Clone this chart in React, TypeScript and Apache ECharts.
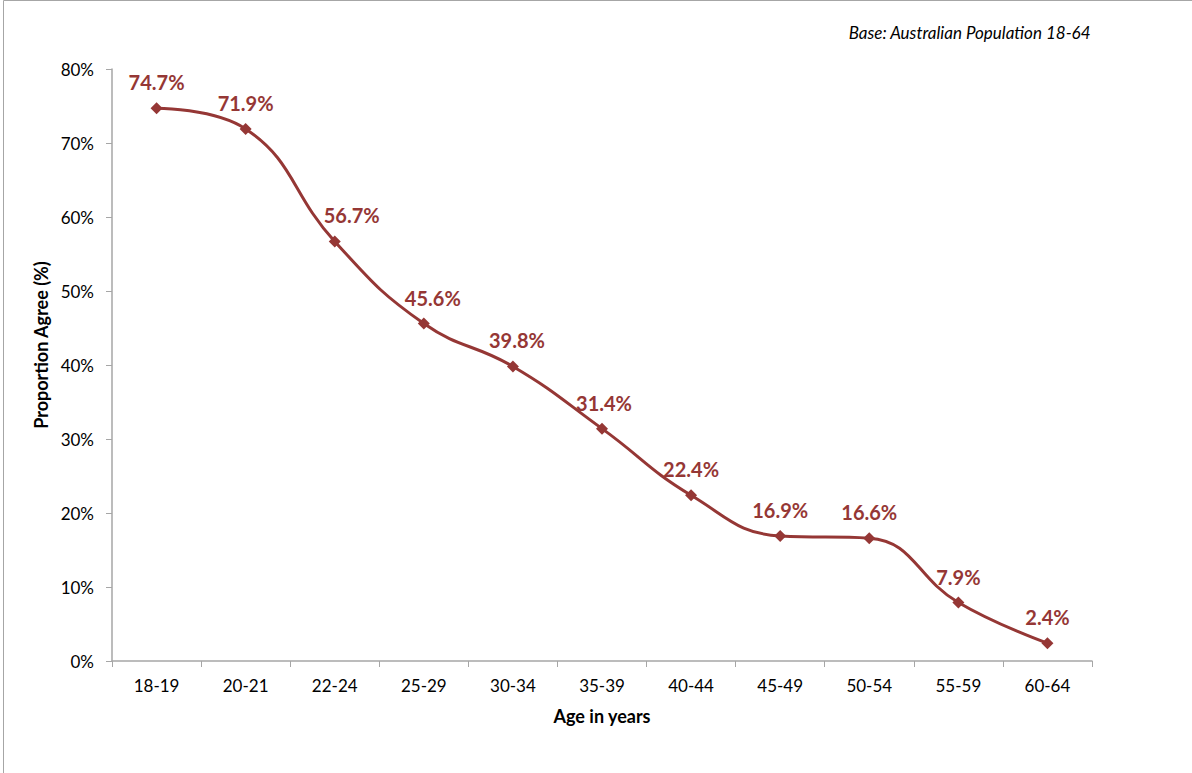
import React, { useEffect, useRef } from "react";
import * as echarts from "echarts";

const categories = ["18-19", "20-21", "22-24", "25-29", "30-34", "35-39", "40-44", "45-49", "50-54", "55-59", "60-64"];
const values = [74.7, 71.9, 56.7, 45.6, 39.8, 31.4, 22.4, 16.9, 16.6, 7.9, 2.4];
const yTicks = { min: 0, max: 80, interval: 10 };
// horizontal nudges of some data labels (styling only)
const labelShiftX = [0, 0, 17, 9, 4, 2, 0, 0, 0, 0, 0];

const FONT = "Lato, 'Noto Sans', sans-serif";
const RED = "#953735";

export default function App() {
  const ref = useRef<HTMLDivElement>(null);
  useEffect(() => {
    const chart = echarts.init(ref.current!, null, { renderer: "svg" });
    chart.setOption({
      animation: false,
      textStyle: { fontFamily: FONT },
      graphic: [
        {
          type: "polyline",
          shape: { points: [[3.5, 773], [3.5, 0.5], [1192, 0.5]] },
          style: { stroke: "#a6a6a6", lineWidth: 1, fill: "none" },
        },
        {
          type: "text",
          right: 101,
          top: 24,
          style: {
            text: "Base: Australian Population 18-64",
            font: "italic 17px " + FONT,
            fill: "#000",
          },
        },
      ],
      grid: { left: 112, right: 100, top: 69, bottom: 112, containLabel: false },
      xAxis: {
        type: "category",
        data: categories,
        boundaryGap: true,
        name: "Age in years",
        nameLocation: "middle",
        nameGap: 46,
        nameTextStyle: { fontFamily: FONT, fontWeight: "bold", fontSize: 18, color: "#000" },
        axisLine: { lineStyle: { color: "#a6a6a6", width: 1.5 } },
        axisTick: { show: true, length: 6, alignWithLabel: false, lineStyle: { color: "#a6a6a6" } },
        axisLabel: { fontFamily: FONT, fontSize: 17, color: "#000", margin: 16 },
      },
      yAxis: {
        type: "value",
        min: yTicks.min,
        max: yTicks.max,
        interval: yTicks.interval,
        name: "Proportion Agree (%)",
        nameLocation: "middle",
        nameGap: 60,
        nameRotate: 90,
        nameTextStyle: { fontFamily: FONT, fontWeight: "bold", fontSize: 18, color: "#000", padding: [0, 0, 0, 40] },
        axisLine: { show: true, lineStyle: { color: "#a6a6a6", width: 1.5 } },
        axisTick: { show: true, length: 6, lineStyle: { color: "#a6a6a6" } },
        splitLine: { show: false },
        axisLabel: { fontFamily: FONT, fontSize: 17, color: "#000", margin: 18, formatter: "{value}%" },
      },
      series: [
        {
          type: "line",
          data: values.map((v, i) => ({
            value: v,
            label: { offset: [labelShiftX[i], 0] },
          })),
          smooth: 0.45,
          symbol: "diamond",
          symbolSize: 12,
          itemStyle: { color: RED },
          lineStyle: { color: RED, width: 3 },
          label: {
            show: true,
            position: "top",
            distance: 10,
            fontFamily: FONT,
            fontWeight: "bold",
            fontSize: 20,
            color: RED,
            formatter: (p: any) => p.value.toFixed(1) + "%",
          },
        },
      ],
    });
    return () => chart.dispose();
  }, []);
  return <div ref={ref} style={{ width: 1192, height: 773, position: "absolute", left: 0, top: 0 }} />;
}
